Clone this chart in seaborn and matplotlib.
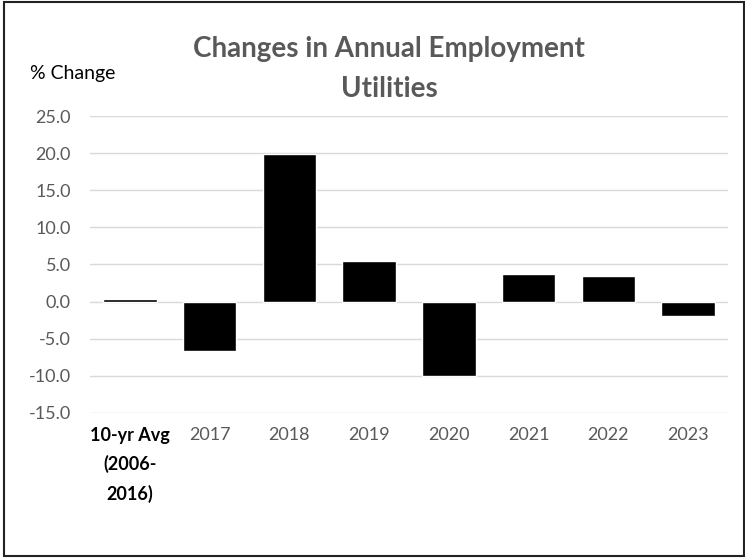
import matplotlib
matplotlib.use("Agg")
import matplotlib.pyplot as plt
import matplotlib.patches as mpatches
import pandas as pd
import seaborn as sns

categories = ["10-yr Avg\n(2006-\n2016)", "2017", "2018", "2019", "2020", "2021", "2022", "2023"]
pct_change = [0.3, -6.6, 19.9, 5.5, -10.0, 3.7, 3.4, -2.0]
y_ticks = [-15, -10, -5, 0, 5, 10, 15, 20, 25]

df = pd.DataFrame({"period": categories, "change": pct_change})

sns.set_theme(style="white")
plt.rcParams["font.family"] = ["Lato", "DejaVu Sans"]

fig = plt.figure(figsize=(7.45, 5.58), dpi=100)
ax = fig.add_axes([0.121, 0.26, 0.856, 0.532])

sns.barplot(data=df, x="period", y="change", color="black", width=0.67,
            saturation=1, ax=ax, zorder=3)

ax.set_ylim(-15, 25)
ax.set_yticks(y_ticks)
ax.set_yticklabels([f"{v:.1f}" for v in y_ticks], color="#595959", fontsize=13)
ax.yaxis.grid(True, color="#d9d9d9", linewidth=1, zorder=0)
ax.set_xlim(-0.5, len(categories) - 0.5)
for s in ax.spines.values():
    s.set_visible(False)
ax.tick_params(axis="y", length=0, pad=14)
ax.tick_params(axis="x", length=0, pad=10)
ax.set_xlabel("")
ax.set_ylabel("")

ax.set_xticks(range(len(categories)))
ax.set_xticklabels(categories, fontsize=13, color="#595959", va="top")
first = ax.get_xticklabels()[0]
first.set_fontweight("bold")
first.set_color("black")
first.set_linespacing(1.75)

fig.text(0.522, 0.913, "Changes in Annual Employment", ha="center", va="center",
         fontsize=20, fontweight="bold", color="#595959")
fig.text(0.522, 0.841, "Utilities", ha="center", va="center",
         fontsize=20, fontweight="bold", color="#595959")
fig.text(0.04, 0.868, "% Change", ha="left", va="center",
         fontsize=14, color="black")

border = mpatches.Rectangle((4 / 745, 2 / 558), 740 / 745, 554 / 558,
                            transform=fig.transFigure, fill=False,
                            edgecolor="#222222", linewidth=1.5)
fig.patches.append(border)

fig.savefig("out.png", dpi=100, facecolor="white")
